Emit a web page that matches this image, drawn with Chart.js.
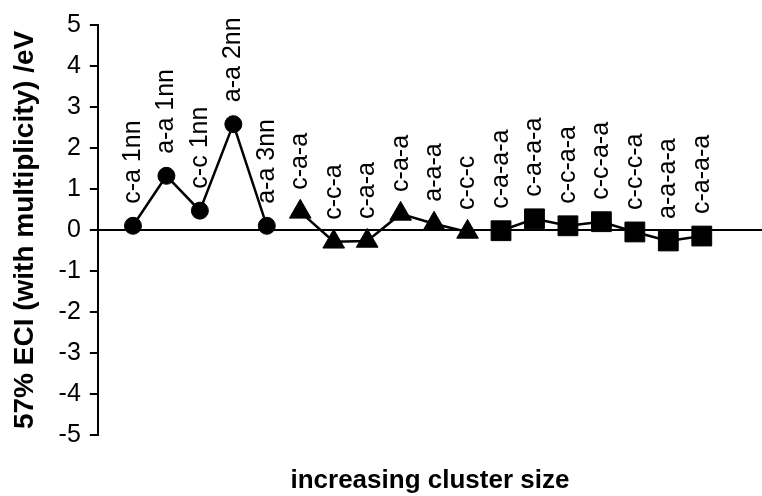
<!DOCTYPE html>
<html>
<head>
<meta charset="utf-8">
<script src="https://cdn.jsdelivr.net/npm/chart.js@4/dist/chart.umd.min.js"></script>
<style>
html,body{margin:0;padding:0;background:#fff;}
</style>
</head>
<body>
<canvas id="canvas1" width="762" height="496"></canvas>
<script>
// pair, triplet and quadruplet clusters
var pairLabels = ['c-a 1nn', 'a-a 1nn', 'c-c 1nn', 'a-a 2nn', 'a-a 3nn'];
var pairValues = [0.10, 1.32, 0.47, 2.58, 0.10];
var tripletLabels = ['c-a-a', 'c-c-a', 'c-a-a', 'c-a-a', 'a-a-a', 'c-c-c'];
var tripletValues = [0.44, -0.29, -0.27, 0.39, 0.15, -0.05];
var quadLabels = ['c-a-a-a', 'c-a-a-a', 'c-c-a-a', 'c-c-a-a', 'c-c-c-a', 'a-a-a-a', 'c-a-a-a'];
var quadValues = [-0.02, 0.27, 0.10, 0.20, -0.05, -0.27, -0.15];
var yTicks = [-5, -4, -3, -2, -1, 0, 1, 2, 3, 4, 5];

var FONT = "'Liberation Sans', Arial, sans-serif";

// running index along the x axis
var pos = 1;
function toPoints(labels, values) {
    return values.map(function(v, i) {
        var p = {x: pos, y: v, label: labels[i]};
        pos++;
        return p;
    });
}

function series(labels, values, style, radius) {
    return {
        data: toPoints(labels, values),
        borderColor: '#000',
        backgroundColor: '#000',
        borderWidth: 2.5,
        pointStyle: style,
        pointRadius: radius,
        pointBackgroundColor: '#000',
        pointBorderColor: '#000',
        pointBorderWidth: 1,
        tension: 0,
        clip: false
    };
}

var datasets = [
    series(pairLabels, pairValues, 'circle', 8.5),
    series(tripletLabels, tripletValues, 'triangle', 12.5),
    series(quadLabels, quadValues, 'rect', 14)
];

// vertical labels above each point
var pointLabels = {
    id: 'pointLabels',
    afterDatasetsDraw: function(chart) {
        var ctx = chart.ctx;
        ctx.save();
        ctx.fillStyle = '#000';
        ctx.font = '25px ' + FONT;
        ctx.textAlign = 'left';
        ctx.textBaseline = 'middle';
        chart.data.datasets.forEach(function(ds, di) {
            var meta = chart.getDatasetMeta(di);
            meta.data.forEach(function(el, i) {
                ctx.save();
                ctx.translate(el.x, el.y - 22);
                ctx.rotate(-Math.PI / 2);
                ctx.fillText(ds.data[i].label, 0, 0);
                ctx.restore();
            });
        });
        ctx.restore();
    }
};

var ctx = document.getElementById('canvas1').getContext('2d');
var myChart = new Chart(ctx, {
    type: 'line',
    data: {datasets: datasets},
    plugins: [pointLabels],
    options: {
        responsive: false,
        animation: false,
        layout: {autoPadding: false, padding: {top: 25, left: 8, right: 0, bottom: 0}},
        plugins: {
            legend: {display: false},
            tooltip: {enabled: false}
        },
        scales: {
            x: {
                type: 'linear',
                min: -0.05,
                max: 19.8,
                grid: {display: false},
                border: {display: false},
                ticks: {display: false},
                title: {
                    display: true,
                    text: 'increasing cluster size',
                    color: '#000',
                    font: {family: FONT, size: 26, weight: 'bold'},
                    padding: {top: 22, bottom: 0}
                }
            },
            y: {
                min: -5,
                max: 5,
                afterBuildTicks: function(axis) {
                    axis.ticks = yTicks.map(function(v) { return {value: v}; });
                },
                ticks: {
                    color: '#000',
                    font: {family: FONT, size: 25},
                    padding: 9
                },
                grid: {
                    color: function(c) {
                        return c.tick && c.tick.value === 0 ? '#000' : 'rgba(0,0,0,0)';
                    },
                    lineWidth: 2,
                    tickColor: '#000',
                    tickLength: 8,
                    tickWidth: 2
                },
                border: {color: '#000', width: 2},
                title: {
                    display: true,
                    text: '57% ECI (with multiplicity) /eV',
                    color: '#000',
                    font: {family: FONT, size: 28, weight: 'bold'},
                    padding: {top: 0, bottom: 8}
                }
            }
        }
    }
});
</script>
</body>
</html>
